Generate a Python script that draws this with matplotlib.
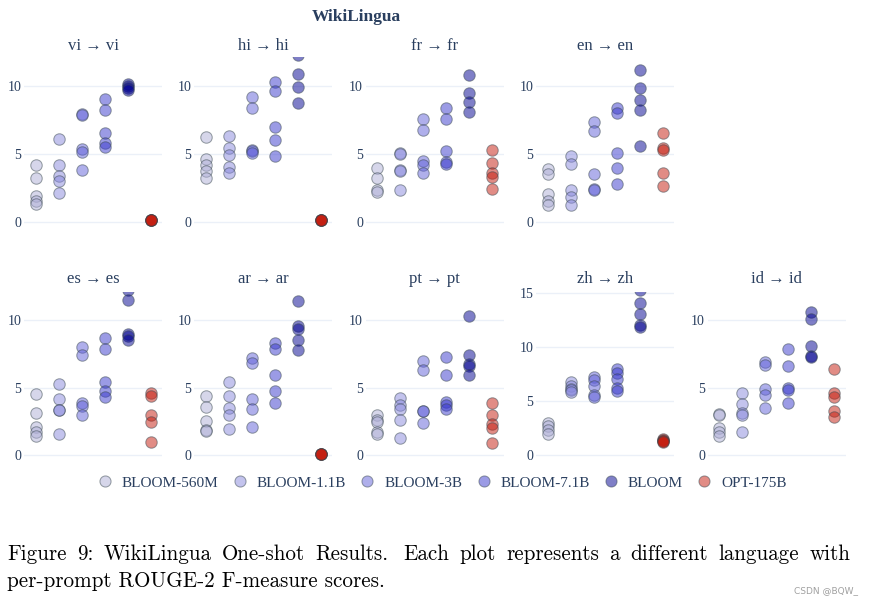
import matplotlib
matplotlib.use("Agg")
import matplotlib.pyplot as plt
from matplotlib.lines import Line2D

W, H = 871, 605

models = ["BLOOM-560M", "BLOOM-1.1B", "BLOOM-3B", "BLOOM-7.1B", "BLOOM", "OPT-175B"]
colors = ["#afafd7", "#8989dd", "#6161d9", "#3939cd", "#000091", "#c41a0c"]

languages = ["vi", "hi", "fr", "en", "es", "ar", "pt", "zh", "id"]

vi = [
    [4.2, 3.2, 1.9, 1.55, 1.3],
    [6.1, 4.2, 3.4, 3.0, 2.1],
    [7.9, 7.85, 5.35, 5.15, 3.8],
    [9.0, 8.2, 6.55, 5.8, 5.5],
    [10.1, 10.0, 9.85, 9.7],
    [0.1, 0.1, 0.1, 0.1, 0.1],
]
hi = [
    [6.2, 4.6, 4.2, 3.75, 3.2],
    [6.3, 5.4, 4.9, 4.05, 3.55],
    [9.2, 8.35, 5.3, 5.2, 5.05],
    [10.3, 9.65, 7.0, 6.05, 4.85],
    [12.3, 10.9, 9.95, 8.7],
    [0.1, 0.1, 0.1, 0.1, 0.1],
]
fr = [
    [3.95, 3.25, 2.3, 2.15],
    [5.05, 5.0, 3.8, 3.7, 2.35],
    [7.55, 6.75, 4.5, 4.15, 3.55],
    [8.35, 7.55, 5.2, 4.4, 4.25],
    [10.8, 9.5, 8.8, 8.1],
    [5.3, 4.35, 3.6, 3.3, 2.4],
]
en = [
    [3.85, 3.5, 2.05, 1.55, 1.25],
    [4.8, 4.25, 2.3, 1.8, 1.25],
    [7.35, 6.65, 3.5, 2.4, 2.35],
    [8.35, 8.0, 5.05, 3.95, 2.8],
    [11.15, 9.85, 8.95, 8.25, 5.6],
    [6.5, 5.45, 5.25, 3.6, 2.65],
]
es = [
    [4.55, 3.1, 2.1, 1.75, 1.45],
    [5.25, 4.2, 3.35, 3.35, 1.55],
    [8.0, 7.4, 3.85, 3.65, 3.0],
    [8.65, 7.85, 5.4, 4.75, 4.3],
    [12.2, 11.5, 8.95, 8.85, 8.5],
    [4.6, 4.35, 3.0, 2.5, 0.95],
]
ar = [
    [4.4, 3.6, 2.55, 1.85, 1.8],
    [5.4, 4.35, 3.5, 2.95, 1.95],
    [7.2, 6.85, 4.15, 3.45, 2.1],
    [8.3, 7.85, 5.95, 4.75, 3.9],
    [11.4, 9.55, 9.3, 8.55, 7.75],
    [0.1, 0.1, 0.1, 0.1, 0.1],
]
pt = [
    [3.0, 2.6, 2.5, 1.75, 1.6],
    [4.25, 3.7, 3.45, 2.6, 1.25],
    [7.0, 6.3, 3.3, 3.25, 2.4],
    [7.25, 5.95, 3.95, 3.75, 3.4],
    [10.3, 7.45, 6.75, 6.6, 5.9],
    [3.9, 3.0, 2.35, 2.0, 0.9],
]
zh = [
    [2.95, 2.75, 2.35, 2.0],
    [6.75, 6.4, 6.15, 6.0, 5.85],
    [7.2, 6.95, 6.4, 5.6, 5.35],
    [7.95, 7.55, 7.0, 6.2, 5.95],
    [15.2, 14.05, 13.0, 12.0, 11.8],
    [1.5, 1.4, 1.35, 1.3, 1.25],
]
id_ = [
    [3.05, 2.95, 2.05, 1.7, 1.4],
    [4.6, 3.8, 3.1, 3.0, 1.75],
    [6.9, 6.65, 4.9, 4.45, 3.5],
    [7.85, 6.6, 4.95, 4.8, 3.9],
    [10.6, 10.1, 8.1, 7.35, 7.3],
    [6.35, 4.6, 4.3, 3.3, 2.85],
]
scores = [vi, hi, fr, en, es, ar, pt, zh, id_]

main_title = "WikiLingua"
caption_1 = "Figure 9: WikiLingua One-shot Results.  Each plot represents a different language with"
caption_2 = "per-prompt ROUGE-2 F-measure scores."
watermark = "CSDN @BQW_"

TEXT = "#2a3f5f"
GRID = "#ebf0f8"
SERIF = ["Liberation Serif", "DejaVu Serif"]
EDGE = "#3a4850"
ALPHA = 0.5

fig = plt.figure(figsize=(W / 100, H / 100), dpi=100)

col_left = [24, 194, 365.7, 536, 707.7]
ax_w = 138
rows = [(57.3, 171.2), (291.6, 170.5)]


def px_axes(left, top, w, h):
    return [left / W, 1 - (top + h) / H, w / W, h / H]


for i, lang in enumerate(languages):
    r = 0 if i < 4 else 1
    c = i if i < 4 else i - 4
    top, h = rows[r]
    ax = fig.add_axes(px_axes(col_left[c], top, ax_w, h))
    data = scores[i]
    for m, vals in enumerate(data):
        ax.scatter([m] * len(vals), vals, s=68, color=colors[m], alpha=ALPHA,
                   edgecolors=EDGE, linewidths=0.75, zorder=3)
    ax.set_xlim(-0.5, 5.5)
    if lang == "zh":
        ax.set_ylim(-0.62, 15.09)
        ax.set_yticks([0, 5, 10, 15])
    else:
        ax.set_ylim(-0.5, 12.1)
        ax.set_yticks([0, 5, 10])
    ax.set_xticks([])
    for s in ax.spines.values():
        s.set_visible(False)
    ax.grid(axis="y", color=GRID, lw=1.0)
    ax.set_axisbelow(True)
    ax.tick_params(axis="y", length=0, pad=2, labelcolor=TEXT, labelsize=10)
    for t in ax.get_yticklabels():
        t.set_fontfamily(SERIF)
    title_y = 46 if r == 0 else 279
    fig.text((col_left[c] + ax_w / 2) / W, 1 - title_y / H, f"{lang} \u2192 {lang}",
             ha="center", va="center", fontsize=12, family=SERIF, color=TEXT)

fig.text(356 / W, 1 - 17 / H, main_title, ha="center", va="center",
         fontsize=12.5, fontweight="bold", family=SERIF, color=TEXT)

handles = [Line2D([], [], ls="", marker="o", markersize=8, markerfacecolor=colors[m],
                  markeredgecolor=EDGE, markeredgewidth=0.75, alpha=ALPHA)
           for m in range(len(models))]
fig.legend(handles, models, loc="center", bbox_to_anchor=(442 / W, 1 - 483 / H),
           ncol=6, frameon=False, handlelength=1.0, handletextpad=0.6,
           columnspacing=0.9, prop={"family": SERIF, "size": 11}, labelcolor=TEXT)

# caption, line 1 justified
cap_size = 15.2
fig.canvas.draw()
renderer = fig.canvas.get_renderer()
words = caption_1.replace("  ", " ").split(" ")
widths = []
for wd in words:
    t = fig.text(0, 0, wd, fontsize=cap_size, family="cmr10")
    widths.append(t.get_window_extent(renderer).width)
    t.remove()
x0, x1 = 7, 850
n_gaps = len(words) - 1
sent_idx = words.index("Results.")
weights = [1.35 if k == sent_idx else 1.0 for k in range(n_gaps)]
gap_unit = (x1 - x0 - sum(widths)) / sum(weights)
x = x0
for k, wd in enumerate(words):
    fig.text(x / W, 1 - 560 / H, wd, fontsize=cap_size, family="cmr10",
             ha="left", va="baseline", color="black")
    if k < n_gaps:
        x += widths[k] + gap_unit * weights[k]
fig.text(7 / W, 1 - 587 / H, caption_2, fontsize=cap_size, family="cmr10",
         ha="left", va="baseline", color="black")

fig.text(858 / W, 1 - 591 / H, watermark, fontsize=6.5, family="DejaVu Sans",
         ha="right", va="center", color="#a0a0a0")

fig.savefig("out.png", dpi=100)
